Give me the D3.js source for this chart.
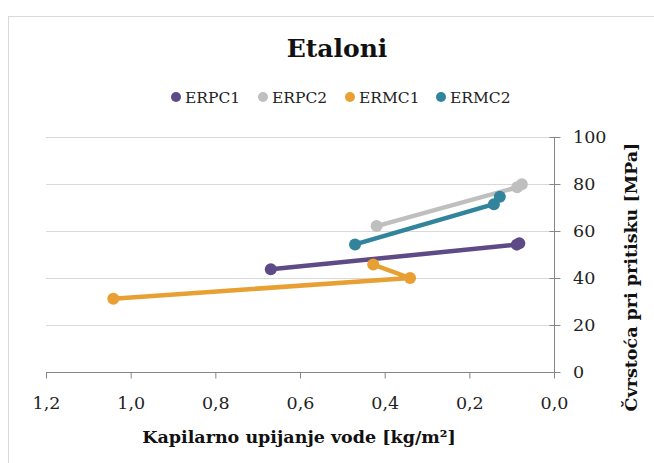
<!DOCTYPE html>
<html><head><meta charset="utf-8">
<script src="https://cdn.jsdelivr.net/npm/d3@7"></script>
<style>body{margin:0;background:#fff;} svg{display:block;}</style>
</head><body>
<svg id="c" width="654" height="463"></svg>
<script>
const title = "Etaloni";
const seriesNames = ["ERPC1", "ERPC2", "ERMC1", "ERMC2"];
const seriesColors = ["#5e4a86", "#bfbfbf", "#e8a033", "#31849b"];
const erpc1X = [0.669, 0.088, 0.082];
const erpc1Y = [43.7, 54.2, 54.8];
const erpc2X = [0.419, 0.087, 0.076];
const erpc2Y = [62.1, 78.6, 79.9];
const ermc1X = [1.041, 0.340, 0.427];
const ermc1Y = [31.2, 40.0, 45.7];
const ermc2X = [0.470, 0.142, 0.128];
const ermc2Y = [54.3, 71.4, 74.6];
const xTicks = [1.2, 1.0, 0.8, 0.6, 0.4, 0.2, 0.0];
const yTicks = [0, 20, 40, 60, 80, 100];
const xTitle = "Kapilarno upijanje vode [kg/m²]";
const yTitle = "Čvrstoća pri pritisku [MPa]";

const series = [
  {name: seriesNames[0], color: seriesColors[0], xs: erpc1X, ys: erpc1Y},
  {name: seriesNames[1], color: seriesColors[1], xs: erpc2X, ys: erpc2Y},
  {name: seriesNames[2], color: seriesColors[2], xs: ermc1X, ys: ermc1Y},
  {name: seriesNames[3], color: seriesColors[3], xs: ermc2X, ys: ermc2Y}
];

const svg = d3.select("#c");
const font = "'DejaVu Serif', 'Liberation Serif', serif";
// chart border
svg.append("rect").attr("x", 8.5).attr("y", 16.5).attr("width", 700).attr("height", 500)
  .attr("fill", "none").attr("stroke", "#d9d9d9").attr("stroke-width", 1);

const x = d3.scaleLinear().domain([1.2, 0]).range([46, 554]);
const y = d3.scaleLinear().domain([0, 100]).range([372, 137]);

// gridlines
svg.append("g").selectAll("line").data(yTicks.filter(d => d > 0)).join("line")
  .attr("x1", x(1.2)).attr("x2", x(0))
  .attr("y1", d => Math.round(y(d)) + 0.5).attr("y2", d => Math.round(y(d)) + 0.5)
  .attr("stroke", "#d9d9d9").attr("stroke-width", 1);

const fmt = d => d3.format(".1f")(d).replace(".", ",");
const xAxis = svg.append("g").attr("transform", `translate(0,${Math.round(y(0)) + 0.5})`)
  .call(d3.axisBottom(x).tickValues(xTicks).tickFormat(fmt).tickSize(6).tickPadding(18));
const yAxis = svg.append("g").attr("transform", `translate(${Math.round(x(0)) + 0.5},0)`)
  .call(d3.axisRight(y).tickValues(yTicks).tickSize(6).tickPadding(12.5));
[xAxis, yAxis].forEach(a => {
  a.selectAll("path").attr("stroke", "#868686");
  a.selectAll("line").attr("stroke", "#868686");
  a.selectAll("text").attr("font-family", font).attr("font-size", 17.5).attr("fill", "#222");
});
yAxis.selectAll(".tick line").attr("x1", -5);
yAxis.select(".domain").attr("d", `M0,${y(100)}V${y(0)}`);
xAxis.select(".domain").attr("d", `M${x(1.2)},0H${x(0)}`);

// lines and markers
const line = d3.line().x(d => x(d[0])).y(d => y(d[1]));
series.forEach(s => {
  const pts = s.xs.map((v, i) => [v, s.ys[i]]);
  svg.append("path").datum(pts).attr("d", line).attr("fill", "none")
    .attr("stroke", s.color).attr("stroke-width", 4.5).attr("stroke-linejoin", "round");
  svg.append("g").selectAll("circle").data(pts).join("circle")
    .attr("cx", d => x(d[0])).attr("cy", d => y(d[1])).attr("r", 6).attr("fill", s.color);
});

// title
svg.append("text").attr("x", 337).attr("y", 57).attr("text-anchor", "middle")
  .attr("font-family", font).attr("font-weight", "bold").attr("font-size", 25).attr("fill", "#111")
  .text(title);

// legend
const legendPos = [176, 263, 350, 441];
const lg = svg.append("g").selectAll("g").data(series).join("g")
  .attr("transform", (d, i) => `translate(${legendPos[i]},97)`);
lg.append("circle").attr("r", 5).attr("fill", d => d.color);
lg.append("text").attr("x", 9).attr("y", 6).attr("font-family", font).attr("font-size", 15.5)
  .attr("fill", "#222").text(d => d.name);

// axis titles
svg.append("text").attr("x", 299).attr("y", 443).attr("text-anchor", "middle")
  .attr("font-family", font).attr("font-weight", "bold").attr("font-size", 17.5).attr("fill", "#111")
  .text(xTitle);
svg.append("text").attr("transform", "translate(637,277) rotate(-90)").attr("text-anchor", "middle")
  .attr("font-family", font).attr("font-weight", "bold").attr("font-size", 17.5).attr("fill", "#111")
  .text(yTitle);
</script>
</body></html>
